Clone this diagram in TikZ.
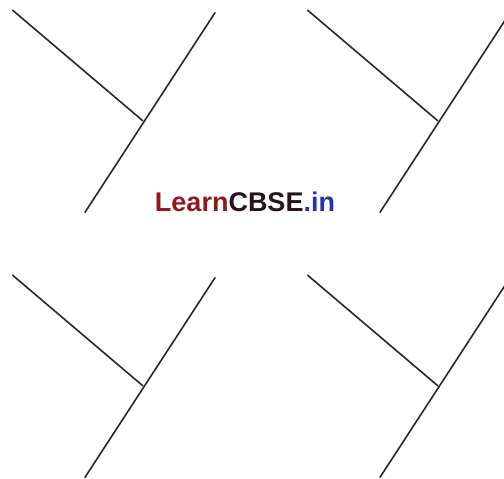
\documentclass[tikz,border=0pt]{standalone}
\usepackage{fontspec}
\setmainfont{Liberation Sans}
\definecolor{lcred}{RGB}{150,22,32}
\definecolor{lcdark}{RGB}{40,20,20}
\definecolor{lcblue}{RGB}{35,50,180}
\definecolor{lineclr}{RGB}{40,40,40}
\tikzset{ray/.style = {line width=1.6pt, draw=lineclr, line cap=round}}

\begin{document}
\begin{tikzpicture}[x=1pt, y=-1pt]
    \useasboundingbox (0,0) rectangle (504,479);
    \clip (0,0) rectangle (504,479);
    % four identical figures
    \foreach \dx/\dy/\n in {0/0/a, 295/0/b, 0/265/c, 295/265/d} {
        \coordinate (\n-start) at (12.7+\dx,10.3+\dy);
        \coordinate (\n-meet) at (142.7+\dx,120.7+\dy);
        \coordinate (\n-low) at (85+\dx,212.3+\dy);
        \coordinate (\n-high) at (215+\dx,12.7+\dy);
        \draw [ray] (\n-start) -- (\n-meet);
        \draw [ray] (\n-low) -- (\n-high);
    }
    \node (logo) [anchor=base, inner sep=0pt, font=\fontsize{27}{30}\selectfont\bfseries]
        at (245,211.5) {\textcolor{lcred}{Learn}\textcolor{lcdark}{CBSE}\textcolor{lcblue}{.in}};
\end{tikzpicture}
\end{document}
